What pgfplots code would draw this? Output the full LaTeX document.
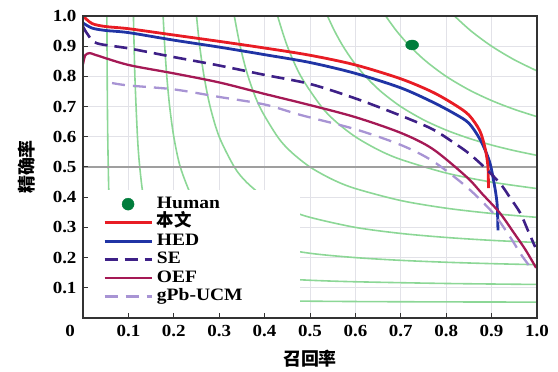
\documentclass[border=0pt]{standalone}
\usepackage{pgfplots}
\pgfplotsset{compat=1.18}
\usepackage{fontspec}
\setmainfont{Liberation Serif}[FakeStretch=1.12]
\newfontfamily\cjk{Noto Sans CJK SC}
\usetikzlibrary{calc}
\definecolor{cRed}{RGB}{232,28,36}
\definecolor{cBlue}{RGB}{32,52,165}
\definecolor{cSE}{RGB}{62,32,135}
\definecolor{cOEF}{RGB}{165,25,85}
\definecolor{cGPB}{RGB}{168,148,212}
\definecolor{cIso}{RGB}{140,215,150}
\definecolor{cHum}{RGB}{0,125,60}
\definecolor{cGrid}{RGB}{226,226,232}
\pgfplotsset{
  layers/mylayers/.define layer set={axis background,axis grid,main,axis ticks,axis lines,axis tick labels,axis descriptions,axis foreground}{/pgfplots/layers/standard},
  humanlegend/.style={legend image code/.code={\draw[##1,mark options={xscale=1},mark size=6bp] plot coordinates {(23.5bp,0bp)};}},
  linelegend/.style={legend image code/.code={\draw[mark repeat=2,mark phase=2,##1] plot coordinates {(0bp,0bp)(23.5bp,0bp)(47bp,0bp)};}},
}
\begin{document}
\begin{tikzpicture}
\begin{axis}[name=ax, set layers=mylayers,
  scale only axis, width=454bp, height=302bp,
  xmin=0, xmax=1, ymin=0, ymax=1,
  xtick={0,0.1,0.2,0.3,0.4,0.5,0.6,0.7,0.8,0.9,1.0},
  xticklabels={{\hspace*{-26bp}0},0.1,0.2,0.3,0.4,0.5,0.6,0.7,0.8,0.9,1.0},
  ytick={0.1,0.2,0.3,0.4,0.5,0.6,0.7,0.8,0.9,1.0},
  yticklabels={0.1,0.2,0.3,0.4,0.5,0.6,0.7,0.8,0.9,1.0},
  tick align=inside, tick pos=left, major tick length=5bp,
  grid=major, major grid style={cGrid, line width=0.9bp},
  axis line style={line width=1.2bp, black!80},
  tick style={line width=1bp, black!80},
  tick label style={font=\bfseries\fontsize{17}{17}\selectfont},
  xticklabel style={yshift=-4bp},
  yticklabel style={xshift=-3bp},
  xlabel={召回率}, ylabel={精确率},
  every axis x label/.style={at={(axis description cs:0.5,-0.136)},anchor=center,font=\cjk\bfseries\fontsize{18}{18}\selectfont},
  every axis y label/.style={at={(axis description cs:-0.1233,0.5)},rotate=90,anchor=center,font=\cjk\bfseries\fontsize{18}{18}\selectfont},
  legend style={at={(axis cs:0.044,0.405)}, anchor=north west, draw=none, fill=none,
    inner sep=0pt, row sep=2bp,
    font=\bfseries\fontsize{17.5}{17.5}\selectfont,
    nodes={inner ysep=0bp, inner xsep=4bp, text height=12.5bp, text depth=4bp}},
  legend cell align=left,
  linelegend,
]
% iso-F curves
\addplot[cIso, line width=1.6bp, smooth, forget plot] coordinates {(0.0526,1.0)(0.0533,0.8)(0.0545,0.6)(0.0571,0.4)(0.06,0.3)(0.0667,0.2)(0.075,0.15)(0.0857,0.12)(0.1,0.1)(0.12,0.0857)(0.15,0.075)(0.2,0.0667)(0.3,0.06)(0.4,0.0571)(0.6,0.0545)(0.8,0.0533)(1.0,0.0526)};
\addplot[cIso, line width=1.6bp, smooth, forget plot] coordinates {(0.1111,1.0)(0.1143,0.8)(0.12,0.6)(0.125,0.5)(0.1333,0.4)(0.15,0.3)(0.1667,0.25)(0.1833,0.22)(0.2,0.2)(0.22,0.1833)(0.25,0.1667)(0.3,0.15)(0.4,0.1333)(0.5,0.125)(0.6,0.12)(0.8,0.1143)(1.0,0.1111)};
\addplot[cIso, line width=1.6bp, smooth, forget plot] coordinates {(0.1765,1.0)(0.18,0.9)(0.1846,0.8)(0.1909,0.7)(0.2,0.6)(0.2143,0.5)(0.24,0.4)(0.2625,0.35)(0.3,0.3)(0.35,0.2625)(0.4,0.24)(0.5,0.2143)(0.6,0.2)(0.7,0.1909)(0.8,0.1846)(0.9,0.18)(1.0,0.1765)};
\addplot[cIso, line width=1.6bp, smooth, forget plot] coordinates {(0.25,1.0)(0.2571,0.9)(0.2667,0.8)(0.28,0.7)(0.3,0.6)(0.3333,0.5)(0.36,0.45)(0.4,0.4)(0.45,0.36)(0.5,0.3333)(0.6,0.3)(0.7,0.28)(0.8,0.2667)(0.9,0.2571)(1.0,0.25)};
\addplot[cIso, line width=1.6bp, smooth, forget plot] coordinates {(0.3333,1.0)(0.3462,0.9)(0.3636,0.8)(0.3889,0.7)(0.4286,0.6)(0.4583,0.55)(0.5,0.5)(0.55,0.4583)(0.6,0.4286)(0.7,0.3889)(0.8,0.3636)(0.9,0.3462)(1.0,0.3333)};
\addplot[cIso, line width=1.6bp, smooth, forget plot] coordinates {(0.4286,1.0)(0.45,0.9)(0.48,0.8)(0.525,0.7)(0.5571,0.65)(0.6,0.6)(0.65,0.5571)(0.7,0.525)(0.8,0.48)(0.9,0.45)(1.0,0.4286)};
\addplot[cIso, line width=1.6bp, smooth, forget plot] coordinates {(0.5385,1.0)(0.5542,0.95)(0.5727,0.9)(0.595,0.85)(0.6222,0.8)(0.65625,0.75)(0.7,0.7)(0.75,0.65625)(0.8,0.6222)(0.85,0.595)(0.9,0.5727)(0.95,0.5542)(1.0,0.5385)};
\addplot[cIso, line width=1.6bp, smooth, forget plot] coordinates {(0.6667,1.0)(0.6909,0.95)(0.72,0.9)(0.7556,0.85)(0.8,0.8)(0.85,0.7556)(0.9,0.72)(0.95,0.6909)(1.0,0.6667)};
\addplot[cIso, line width=1.6bp, smooth, forget plot] coordinates {(0.8182,1.0)(0.855,0.95)(0.9,0.9)(0.95,0.855)(1.0,0.8182)};
% reference line
\addplot[gray!75, line width=1.5bp, forget plot] coordinates {(0,0.5)(1,0.5)};
% legend background
\fill[white] (axis cs:0,0) rectangle (axis cs:0.478,0.424);
% data
\addplot[only marks, mark=*, color=cHum, mark size=5bp, mark options={xscale=1.3}, humanlegend] coordinates {(0.725,0.904)};
\addlegendentry{Human}
\addplot[cBlue, line width=2.8bp, smooth, forget plot] coordinates {(0.0,0.977)(0.02,0.96)(0.05,0.952)(0.1,0.945)(0.2,0.92)(0.3,0.897)(0.4,0.872)(0.5,0.846)(0.6,0.81)(0.7,0.762)(0.77,0.715)(0.82,0.675)(0.85,0.645)(0.875,0.59)(0.895,0.52)(0.905,0.45)(0.912,0.38)(0.914,0.29)};
\addplot[cRed, line width=2.8bp, smooth] coordinates {(0.0,1.0)(0.02,0.975)(0.05,0.965)(0.1,0.958)(0.2,0.937)(0.3,0.916)(0.4,0.894)(0.5,0.87)(0.6,0.838)(0.7,0.792)(0.77,0.748)(0.82,0.705)(0.85,0.672)(0.874,0.62)(0.886,0.56)(0.892,0.5)(0.893,0.43)};
\addlegendentry{\cjk\bfseries 本文}
\addlegendimage{cBlue, line width=2.8bp}
\addlegendentry{HED}
\addplot[cSE, line width=2.6bp, smooth, dash pattern=on 13bp off 7bp] coordinates {(0.0,0.965)(0.01,0.94)(0.03,0.91)(0.1,0.893)(0.2,0.864)(0.3,0.836)(0.4,0.805)(0.5,0.775)(0.6,0.727)(0.7,0.67)(0.77,0.625)(0.82,0.577)(0.85,0.545)(0.88,0.505)(0.918,0.447)(0.94,0.4)(0.963,0.348)(0.98,0.29)(0.996,0.235)};
\addlegendentry{SE}
\addplot[cOEF, line width=2.3bp, smooth] coordinates {(0.0,0.84)(0.005,0.87)(0.015,0.877)(0.03,0.87)(0.1,0.838)(0.2,0.81)(0.3,0.78)(0.4,0.742)(0.5,0.705)(0.6,0.665)(0.7,0.613)(0.77,0.56)(0.845,0.467)(0.88,0.41)(0.918,0.348)(0.95,0.28)(0.975,0.225)(0.998,0.166)};
\addlegendentry{OEF}
\addplot[cGPB, line width=2.3bp, smooth, dash pattern=on 13bp off 8bp] coordinates {(0.064,0.778)(0.1,0.77)(0.2,0.757)(0.3,0.732)(0.4,0.707)(0.48,0.672)(0.6,0.625)(0.7,0.573)(0.77,0.52)(0.845,0.434)(0.903,0.348)(0.94,0.27)(0.965,0.21)(0.985,0.169)};
\addlegendentry{gPb-UCM}
\end{axis}
\pgfresetboundingbox
\path ($(ax.south west)+(-83bp,-54bp)$) rectangle ($(ax.north east)+(21bp,16bp)$);
\end{tikzpicture}
\end{document}
